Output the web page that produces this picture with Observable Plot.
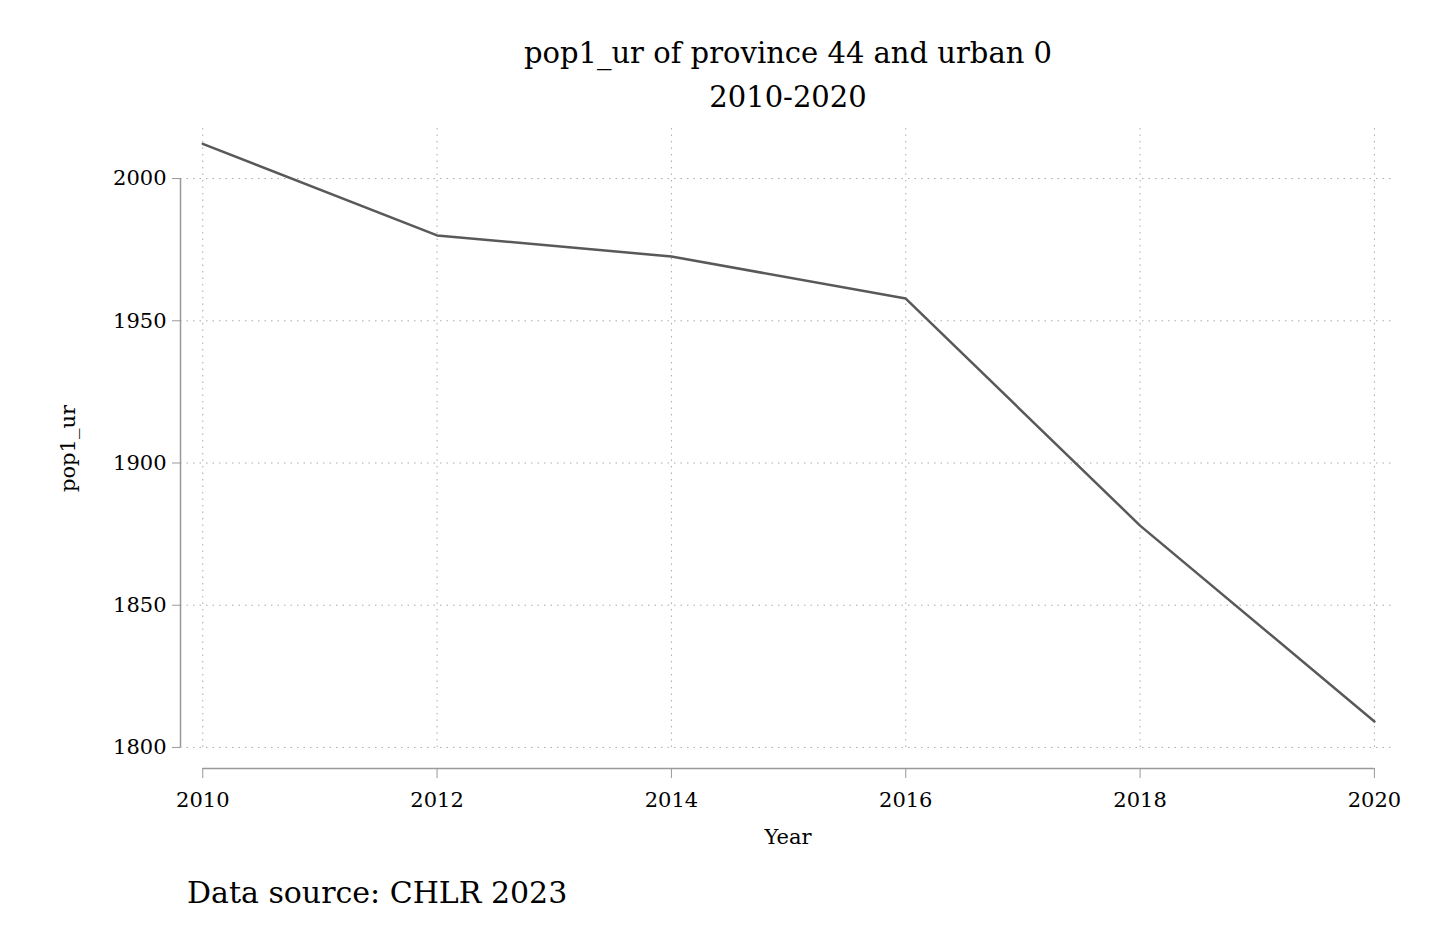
<!DOCTYPE html>
<html><head><meta charset="utf-8">
<script src="https://cdn.jsdelivr.net/npm/d3@7"></script>
<script src="https://cdn.jsdelivr.net/npm/@observablehq/plot@0.6"></script>
<style>
body{margin:0;background:#fff;font-family:"DejaVu Serif",serif;}
#t{height:120px;width:1429px;position:relative}
#t div{position:absolute;left:0;width:1576px;text-align:center;font-size:29px;}
#cap{position:absolute;left:187px;top:875px;font-size:30px}
</style></head><body>
<div id="t"><div style="top:36px">pop1_ur of province 44 and urban 0</div><div style="top:80px">2010-2020</div></div>
<div id="chart"></div>
<div id="cap">Data source: CHLR 2023</div>
<script>
const years=[2010,2012,2014,2016,2018,2020];
const values=[2012.2,1980,1972.6,1957.8,1878,1809.1];
const xTicks=[2010,2012,2014,2016,2018,2020];
const yTicks=[1800,1850,1900,1950,2000];
const data=years.map((y,i)=>({year:y,v:values[i]}));
const xMin=2009.81,xMax=2020.18,yMin=1792.6,yMax=2017.6;
const chart=Plot.plot({
  width:1429,height:740,marginLeft:180,marginRight:34,marginTop:8,marginBottom:92,
  style:{fontFamily:"DejaVu Serif",fontSize:"21px",color:"#000"},
  x:{domain:[xMin,xMax]},y:{domain:[yMin,yMax]},
  marks:[
    Plot.gridY(yTicks,{x1:xMin,x2:xMax,stroke:"#aaa",strokeOpacity:1,strokeDasharray:"1.5,5"}),
    Plot.gridX(xTicks,{y1:1800,y2:yMax,stroke:"#aaa",strokeOpacity:1,strokeDasharray:"1.5,5"}),
    Plot.ruleX([xMin],{y1:1800,y2:2000,stroke:"#999",strokeWidth:1.5}),
    Plot.ruleY([yMin],{x1:2010,x2:2020,stroke:"#999",strokeWidth:1.5}),
    Plot.axisY(yTicks,{anchor:"left",tickSize:8,tickPadding:6,stroke:"#999",tickFormat:d=>String(d),label:"pop1_ur",labelAnchor:"center",labelArrow:"none",labelOffset:120}),
    Plot.axisX(xTicks,{anchor:"bottom",tickSize:10,tickPadding:14,stroke:"#999",tickFormat:d=>String(d),label:"Year",labelAnchor:"center",labelArrow:"none",labelOffset:75}),
    Plot.lineY(data,{x:"year",y:"v",stroke:"#595959",strokeWidth:2.5})
  ]
});
document.getElementById("chart").append(chart);
</script></body></html>
